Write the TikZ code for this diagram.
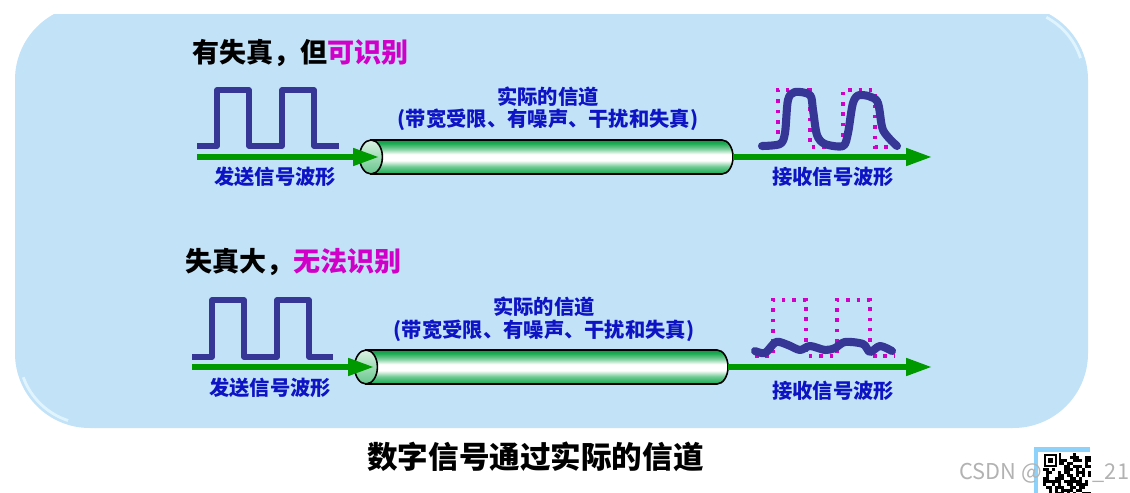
\documentclass[tikz,border=0pt]{standalone}
\usepackage{fontspec}
\setmainfont{Noto Sans CJK SC}
\usetikzlibrary{arrows.meta, shapes.geometric}
\definecolor{panelblue}{HTML}{C2E2F8}
\definecolor{panelglow}{HTML}{E6F8FF}
\definecolor{wavenavy}{HTML}{363696}
\definecolor{dotpink}{HTML}{D000C8}
\definecolor{labelblue}{HTML}{0E14C4}
\definecolor{arrowgreen}{HTML}{009A00}
\definecolor{pipegreen}{HTML}{12A84C}
\definecolor{framesky}{HTML}{8CD2FA}
\pgfdeclareverticalshading{pipeshade}{100bp}{color(0bp)=(pipegreen); color(25bp)=(pipegreen); color(36bp)=(pipegreen!60!white);
  color(45bp)=(white); color(54bp)=(white); color(62bp)=(pipegreen!55!white); color(70bp)=(pipegreen!95!white);
  color(75bp)=(pipegreen!90!black); color(100bp)=(pipegreen)}
\tikzset{
  px/.style={x=0.02cm,y=-0.02cm},
  heading/.style={anchor=west, inner sep=0pt, font=\bfseries\fontsize{15.4}{18}\selectfont},
  bluelabel/.style={text=labelblue, inner sep=0pt, font=\bfseries\fontsize{11.55}{14}\selectfont},
  title/.style={inner sep=0pt, font=\bfseries\fontsize{17.4}{20}\selectfont},
  pulse/.style={draw=wavenavy, line width=3.2pt, line join=round},
  dotted pulse/.style={draw=dotpink, line width=2.2pt, dash pattern=on 2pt off 3.9pt},
  noisy/.style={draw=wavenavy, line width=4.6pt, line cap=round, line join=round},
  flow/.style={draw=arrowgreen, line width=3pt, -{Triangle[length=14.7pt,width=9.5pt]}},
  pipe/.style={draw=black, line width=0.9pt, shading=pipeshade},
  pipecap/.style={shape=ellipse, draw=black, line width=0.9pt, minimum width=13pt, minimum height=19.3pt,
    inner sep=0pt, outer sep=0pt, top color=pipegreen!15!white, bottom color=pipegreen!65!white},
  glow/.style={draw=panelglow, line width=1.6pt, opacity=0.85}
}
\begin{document}
\begin{tikzpicture}[px]
    \useasboundingbox (0, 0) rectangle (1130, 493);
    \clip (0, 0) rectangle (1130, 493);
    % panel
    \fill[panelblue, rounded corners=42.5pt] (15, 5) rectangle (1088, 428);
    \draw[glow] (1013, 80) ++(-62:71) arc[start angle=-62, end angle=-18, radius=71];
    \draw[glow] (90, 353) ++(108:71) arc[start angle=108, end angle=160, radius=71];
    \fill[white] (0, 0) rectangle (1130, 14);

    % upper row
    \node[heading] (headA) at (192, 53) {有失真，但\textcolor{dotpink}{可识别}};
    \draw[pulse] (197, 146) -- (217, 146) -- (217, 90) -- (249, 90) -- (249, 146) -- (282, 146)
      -- (282, 90) -- (314, 90) -- (314, 146) -- (339, 146);
    \path[pipe] (371, 140) -- (722, 140) arc[start angle=-90, end angle=90, x radius=11, y radius=17]
      -- (371, 174) -- cycle;
    \node[pipecap] (capA) at (371, 157) {};
    \coordinate (sendA) at (197, 157);
    \coordinate (tipA) at (379, 157);
    \coordinate (endA) at (733, 157);
    \coordinate (recvA) at (932, 157);
    \draw[flow] (sendA) -- (tipA);
    \draw[flow] (endA) -- (recvA);
    \node[bluelabel] (sendLabelA) at (275, 177) {发送信号波形};
    \node[bluelabel] (chanA) at (548, 97) {实际的信道};
    \node[bluelabel] (noteA) at (548, 120) {(带宽受限、有噪声、干扰和失真)};
    \node[bluelabel] (recvLabelA) at (833, 177) {接收信号波形};
    \draw[dotted pulse] (760, 147) -- (778, 147) -- (778, 90) -- (810, 90) -- (810, 147) -- (843, 147)
      -- (843, 90) -- (875, 90) -- (875, 147) -- (900, 147);
    \draw[noisy] plot[smooth, tension=0.5] coordinates {(762,146) (780,144) (785,133) (788,100) (795,92)
      (810,95) (813,110) (817,135) (825,144) (843,146) (848,133) (853,103) (860,95) (877,101) (883,130) (897,146)};

    % lower row
    \node[heading] (headB) at (185, 262) {失真大，\textcolor{dotpink}{无法识别}};
    \draw[pulse] (192, 357) -- (212, 357) -- (212, 300) -- (244, 300) -- (244, 357) -- (277, 357)
      -- (277, 300) -- (309, 300) -- (309, 357) -- (333, 357);
    \path[pipe] (366, 350) -- (717, 350) arc[start angle=-90, end angle=90, x radius=11, y radius=17]
      -- (366, 384) -- cycle;
    \node[pipecap] (capB) at (366, 367) {};
    \coordinate (sendB) at (192, 367);
    \coordinate (tipB) at (374, 367);
    \coordinate (endB) at (728, 367);
    \coordinate (recvB) at (932, 367);
    \draw[flow] (sendB) -- (tipB);
    \draw[flow] (endB) -- (recvB);
    \node[bluelabel] (sendLabelB) at (270, 388) {发送信号波形};
    \node[bluelabel] (chanB) at (544, 307) {实际的信道};
    \node[bluelabel] (noteB) at (544, 331) {(带宽受限、有噪声、干扰和失真)};
    \node[bluelabel] (recvLabelB) at (833, 391) {接收信号波形};
    \draw[dotted pulse] (755, 356) -- (773, 356) -- (773, 300) -- (806, 300) -- (806, 356) -- (837, 356)
      -- (837, 300) -- (870, 300) -- (870, 356) -- (895, 356);
    \draw[noisy] plot[smooth, tension=0.5] coordinates {(755,351) (765,353) (776,342) (788,345) (800,350)
      (810,346) (825,350) (835,348) (845,342) (863,344) (870,352) (880,346) (892,351)};

    \node[title] (titleText) at (535.5, 457) {数字信号通过实际的信道};

    % code square in the corner
    \fill[framesky] (1034, 447) rectangle (1090, 493);
    \fill[white] (1038, 452) rectangle (1090, 493);
    \pgfmathsetseed{21}
    \foreach \i in {0,...,15} {
      \foreach \j in {0,...,13} {
        \pgfmathparse{rnd<0.5 ? 1 : 0}
        \ifnum\pgfmathresult=1
          \fill[black] (1043+\i*3, 453+\j*3) rectangle ++(3, 3);
        \fi
      }
    }
    \fill[white] (1043, 453) rectangle (1059, 468);
    \draw[black, line width=1.2pt] (1045, 455) rectangle (1056, 466);
    \fill[black] (1048, 458) rectangle (1053, 463);

    % watermark
    \node[inner sep=0pt, anchor=west, text=gray!60, font=\fontsize{12.4}{14}\selectfont] (mark) at (959, 473) {CSDN @\hspace{29pt}\_21};
  \end{tikzpicture}
\end{document}
